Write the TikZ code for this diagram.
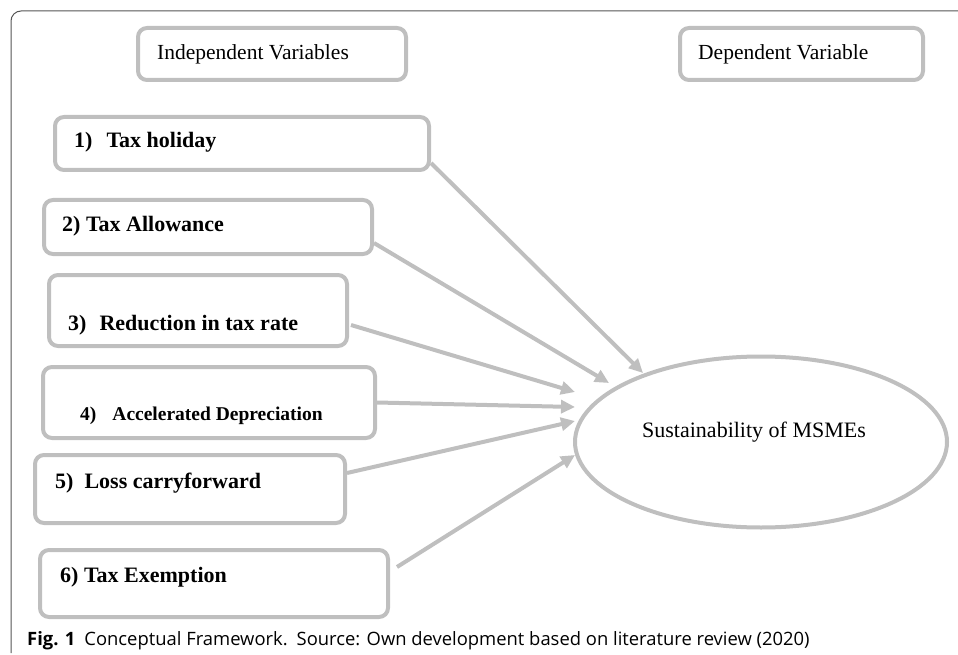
\documentclass[tikz,border=0pt]{standalone}
\usepackage{fontspec}
\setmainfont{Liberation Serif}
\newfontfamily\capfont{Open Sans}
\usepackage{xcolor}
\usetikzlibrary{shapes.geometric,arrows.meta,positioning}
\definecolor{boxgray}{HTML}{BFBFBF}
\definecolor{framegray}{HTML}{555555}

\begin{document}
\begin{tikzpicture}[x=1pt, y=-1pt,
    hdrbox/.style={draw=boxgray, line width=4pt, rounded corners=9pt, minimum height=52pt},
    varbox/.style={draw=boxgray, line width=4pt, rounded corners=9pt},
    lbl/.style={anchor=base west, inner sep=0pt, font=\fontsize{22}{26}\selectfont\bfseries},
    link/.style={draw=boxgray, line width=4pt, -{Triangle[length=14pt,width=13pt]}}]
    \useasboundingbox (0,0) rectangle (958,655);

    % Frame
    \draw[framegray, line width=1pt] (958,11) -- (21,11) arc[start angle=270, end angle=180, radius=10] -- (11,653);

    % Headers
    \node[hdrbox, minimum width=268pt] (hdrI) at (272,54) {};
    \node[anchor=base west, inner sep=0pt, font=\fontsize{21.5}{25}\selectfont] (tI) at (157,60) {Independent Variables};
    \node[hdrbox, minimum width=243pt] (hdrD) at (801.5,54) {};
    \node[anchor=base west, inner sep=0pt, font=\fontsize{21.5}{25}\selectfont] (tD) at (698,60) {Dependent Variable};

    % Independent variables
    \node[varbox, minimum width=374pt, minimum height=53pt] (b1) at (242,143.5) {};
    \node[lbl] (t1) at (74,148) {1)\hspace{14pt}Tax holiday};
    \node[varbox, minimum width=328pt, minimum height=54pt] (b2) at (208,227) {};
    \node[lbl] (t2) at (62,232) {2) Tax Allowance};
    \node[varbox, minimum width=298pt, minimum height=71pt] (b3) at (198,310.5) {};
    \node[lbl] (t3) at (68,330) {3)\hspace{13pt}Reduction in tax rate};
    \node[varbox, minimum width=332pt, minimum height=71pt] (b4) at (209,402.5) {};
    \node[lbl, font=\fontsize{19.5}{23}\selectfont\bfseries] (t4) at (80,420) {4)\hspace{16pt}Accelerated Depreciation};
    \node[varbox, minimum width=310pt, minimum height=68pt] (b5) at (190,489) {};
    \node[lbl] (t5) at (55,488) {5)\hspace{11pt}Loss carryforward};
    \node[varbox, minimum width=348pt, minimum height=67pt] (b6) at (214,583.5) {};
    \node[lbl] (t6) at (60,582) {6) Tax Exemption};

    % Dependent variable
    \node[draw=boxgray, line width=4pt, ellipse, minimum width=372pt, minimum height=171pt] (sus) at (761,442) {};
    \node[anchor=base west, inner sep=0pt, font=\fontsize{22}{26}\selectfont] (ts) at (642,437) {Sustainability of MSMEs};

    % Links
    \draw[link] ([yshift=-19.5pt]b1.east) -- ([xshift=70pt,yshift=69pt]sus.west);
    \draw[link] ([yshift=-16pt]b2.east) -- ([xshift=36pt,yshift=59pt]sus.west);
    \draw[link] ([xshift=2pt,yshift=-14.5pt]b3.east) -- ([xshift=2pt,yshift=50pt]sus.west);
    \draw[link] (b4.east) -- ([xshift=2pt,yshift=35pt]sus.west);
    \draw[link] ([yshift=16pt]b5.east) -- ([xshift=2pt,yshift=21pt]sus.west);
    \draw[link] ([xshift=7pt,yshift=16.5pt]b6.east) -- ([xshift=2pt,yshift=-13pt]sus.west);

    % Caption
    \node[anchor=base west, inner sep=0pt, font=\capfont\fontsize{18.4}{21}\selectfont] (cap) at (27,645)
        {\textbf{Fig. 1}\hspace{9pt}Conceptual Framework.\hspace{9pt}Source: Own development based on literature review (2020)};
\end{tikzpicture}
\end{document}
